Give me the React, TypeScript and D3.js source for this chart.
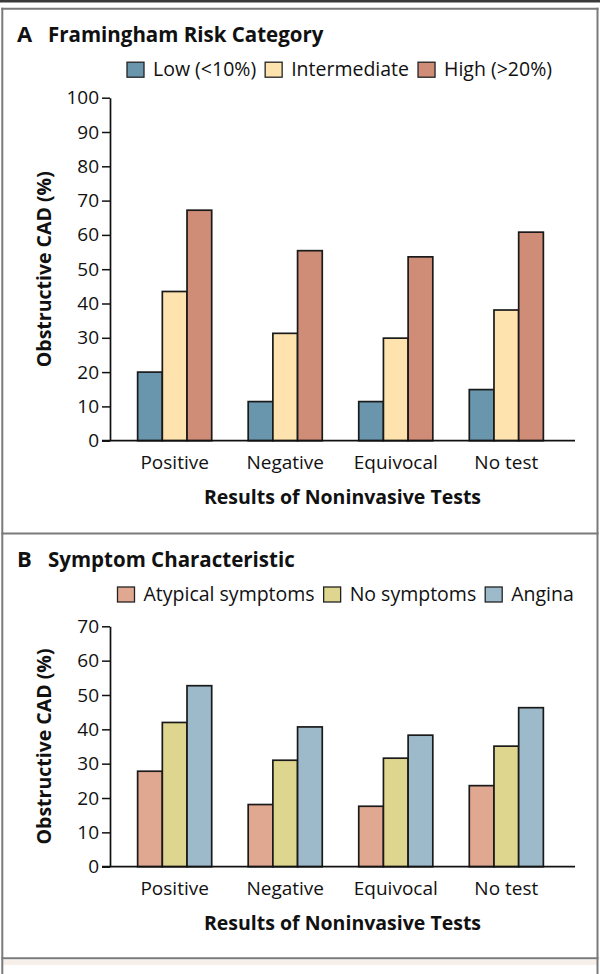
import React, { useEffect, useRef } from "react";
import * as d3 from "d3";

// ---------- data ----------
const categories = ["Positive", "Negative", "Equivocal", "No test"];

const riskSeries = ["Low (<10%)", "Intermediate", "High (>20%)"];
const riskLow = [20.0, 11.4, 11.4, 14.9];
const riskIntermediate = [43.5, 31.3, 29.9, 38.1];
const riskHigh = [67.2, 55.4, 53.6, 60.8];
const riskTicks = [0, 10, 20, 30, 40, 50, 60, 70, 80, 90, 100];

const symptomSeries = ["Atypical symptoms", "No symptoms", "Angina"];
const symptomAtypical = [27.8, 18.1, 17.6, 23.6];
const symptomNone = [42.0, 31.0, 31.6, 35.1];
const symptomAngina = [52.7, 40.7, 38.3, 46.3];
const symptomTicks = [0, 10, 20, 30, 40, 50, 60, 70];

const riskColors = ["#6a96ad", "#fee3ae", "#cf8c77"];
const symptomColors = ["#e0a891", "#ded68e", "#9dbacb"];

const xTitle = "Results of Noninvasive Tests";
const yTitle = "Obstructive CAD (%)";

// ---------- layout ----------
const W = 600;
const H = 974;
const FONT = "'Open Sans', 'Noto Sans', sans-serif";
const AXIS_X = 110;
const PLOT_RIGHT = 571;
const BASE_RIGHT = 575;
const FRAME = "#7a7a7a";

type Panel = {
  letter: string;
  title: string;
  top: number;
  series: string[];
  values: number[][];
  colors: string[];
  ticks: number[];
  yBottom: number;
  yTopPx: number;
  legendX: number;
};

const panels: Panel[] = [
  {
    letter: "A",
    title: "Framingham Risk Category",
    top: 8.7,
    series: riskSeries,
    values: [riskLow, riskIntermediate, riskHigh],
    colors: riskColors,
    ticks: riskTicks,
    yBottom: 440.7,
    yTopPx: 97.7,
    legendX: 127,
  },
  {
    letter: "B",
    title: "Symptom Characteristic",
    top: 533.5,
    series: symptomSeries,
    values: [symptomAtypical, symptomNone, symptomAngina],
    colors: symptomColors,
    ticks: symptomTicks,
    yBottom: 866.7,
    yTopPx: 626.3,
    legendX: 117.5,
  },
];

function drawPanel(svg: d3.Selection<SVGSVGElement, unknown, null, undefined>, p: Panel) {
  const g = svg.append("g").attr("font-family", FONT).attr("fill", "#111");

  // title
  g.append("text")
    .attr("x", 17)
    .attr("y", p.top + 33.5)
    .attr("font-size", 22)
    .attr("font-weight", 700)
    .text(p.letter);
  g.append("text")
    .attr("x", 48)
    .attr("y", p.top + 33.5)
    .attr("font-size", 20.5)
    .attr("font-weight", 700)
    .text(p.title);

  // legend
  const boxTop = p.top + 53.5;
  let cx = p.legendX;
  p.series.forEach((s, i) => {
    g.append("rect")
      .attr("x", cx)
      .attr("y", boxTop)
      .attr("width", 17)
      .attr("height", 15)
      .attr("fill", p.colors[i])
      .attr("stroke", "#222")
      .attr("stroke-width", 1.3);
    const t = g
      .append("text")
      .attr("x", cx + 26)
      .attr("y", boxTop + 14)
      .attr("font-size", 19.5)
      .text(s);
    const w = (t.node() as SVGTextElement).getComputedTextLength();
    cx = cx + 26 + w + 9;
  });

  // scales
  const maxV = p.ticks[p.ticks.length - 1];
  const y = d3.scaleLinear().domain([0, maxV]).range([p.yBottom, p.yTopPx]);
  const x = d3
    .scaleBand<string>()
    .domain(categories)
    .range([AXIS_X, PLOT_RIGHT])
    .paddingInner(0.33)
    .paddingOuter(0.25);
  const inner = d3
    .scaleBand<string>()
    .domain(p.series)
    .range([0, x.bandwidth()])
    .padding(0);

  // bars
  p.series.forEach((s, i) => {
    g.append("g")
      .selectAll("rect")
      .data(p.values[i])
      .join("rect")
      .attr("x", (_d, j) => (x(categories[j]) as number) + (inner(s) as number))
      .attr("y", (d) => y(d))
      .attr("width", inner.bandwidth())
      .attr("height", (d) => y(0) - y(d))
      .attr("fill", p.colors[i])
      .attr("stroke", "#1a1a1a")
      .attr("stroke-width", 1.7);
  });

  // y axis
  const yAxis = g
    .append("g")
    .attr("transform", `translate(${AXIS_X},0)`)
    .call(
      d3
        .axisLeft(y)
        .tickValues(p.ticks)
        .tickSize(8)
        .tickSizeOuter(0)
        .tickPadding(3)
        .tickFormat((d) => String(d))
    );
  yAxis.select(".domain").attr("stroke", "#111").attr("stroke-width", 1.7);
  yAxis.selectAll(".tick line").attr("stroke", "#111").attr("stroke-width", 1.5);
  yAxis
    .selectAll(".tick text")
    .attr("font-family", FONT)
    .attr("font-size", 19)
    .attr("fill", "#111");
  yAxis.attr("font-size", null).attr("font-family", null);

  // x axis baseline
  g.append("line")
    .attr("x1", AXIS_X - 8)
    .attr("x2", BASE_RIGHT)
    .attr("y1", y(0))
    .attr("y2", y(0))
    .attr("stroke", "#111")
    .attr("stroke-width", 1.7);

  // category labels
  g.append("g")
    .selectAll("text")
    .data(categories)
    .join("text")
    .attr("x", (d) => (x(d) as number) + x.bandwidth() / 2)
    .attr("y", y(0) + 28)
    .attr("text-anchor", "middle")
    .attr("font-size", 19)
    .text((d) => d);

  // axis titles
  g.append("text")
    .attr("x", (AXIS_X + BASE_RIGHT) / 2)
    .attr("y", y(0) + 63)
    .attr("text-anchor", "middle")
    .attr("font-size", 19.5)
    .attr("font-weight", 700)
    .text(xTitle);

  const cy = (p.yBottom + p.yTopPx) / 2;
  g.append("text")
    .attr("transform", `translate(50.5,${cy}) rotate(-90)`)
    .attr("text-anchor", "middle")
    .attr("font-size", 19.5)
    .attr("font-weight", 700)
    .text(yTitle);
}

export default function App() {
  const ref = useRef<SVGSVGElement>(null);

  useEffect(() => {
    if (!ref.current) return;
    const svg = d3.select(ref.current);
    svg.selectAll("*").remove();

    svg.append("rect").attr("width", W).attr("height", H).attr("fill", "#fff");

    // frame
    svg.append("rect").attr("x", 0).attr("y", 0).attr("width", W).attr("height", 2.5).attr("fill", "#3a3a3a");
    svg.append("rect").attr("x", 3).attr("y", 960).attr("width", 594).attr("height", 5).attr("fill", "#f6efea");
    const frame = svg.append("g").attr("stroke", FRAME).attr("stroke-width", 2).attr("fill", "none");
    frame.append("line").attr("x1", 2.3).attr("x2", 2.3).attr("y1", 7.7).attr("y2", H);
    frame.append("line").attr("x1", 597.5).attr("x2", 597.5).attr("y1", 7.7).attr("y2", H);
    [8.7, 533.5, 958.3].forEach((yy) => {
      frame.append("line").attr("x1", 1.3).attr("x2", 598.5).attr("y1", yy).attr("y2", yy);
    });

    panels.forEach((p) => drawPanel(svg as any, p));
  }, []);

  return (
    <svg
      ref={ref}
      width={W}
      height={H}
      style={{ position: "absolute", left: 0, top: 0, display: "block" }}
    />
  );
}
